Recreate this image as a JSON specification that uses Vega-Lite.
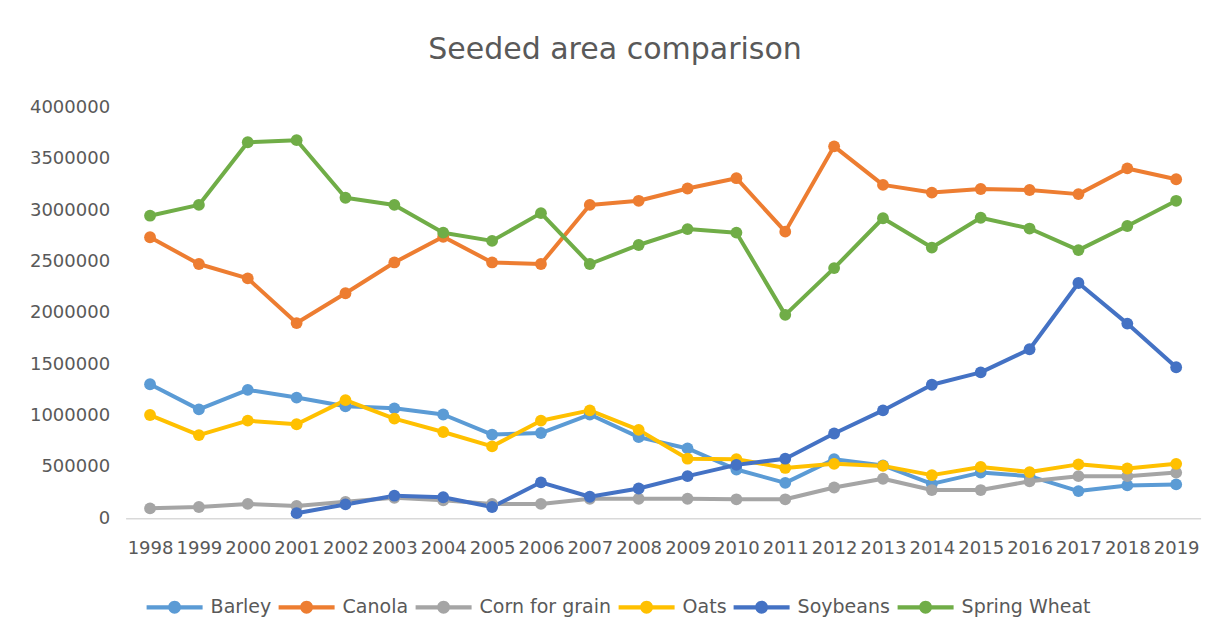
{
  "$schema": "https://vega.github.io/schema/vega-lite/v6.json",
  "autosize": {"type": "none"},
  "width": 1075,
  "height": 411,
  "padding": {"left": 125.6, "top": 107.3, "right": 24.4, "bottom": 120.7},
  "background": "white",
  "title": {
    "text": "Seeded area comparison",
    "font": "DejaVu Sans",
    "fontSize": 30,
    "fontWeight": "normal",
    "color": "#595959",
    "anchor": "middle",
    "frame": "bounds",
    "baseline": "alphabetic",
    "offset": 9
  },
  "config": {
    "view": {"stroke": null},
    "font": "DejaVu Sans"
  },
  "data": {
    "values": [
      {"year": "1998", "crop": "Barley", "area": 1305000},
      {"year": "1999", "crop": "Barley", "area": 1060000},
      {"year": "2000", "crop": "Barley", "area": 1250000},
      {"year": "2001", "crop": "Barley", "area": 1175000},
      {"year": "2002", "crop": "Barley", "area": 1090000},
      {"year": "2003", "crop": "Barley", "area": 1070000},
      {"year": "2004", "crop": "Barley", "area": 1010000},
      {"year": "2005", "crop": "Barley", "area": 815000},
      {"year": "2006", "crop": "Barley", "area": 830000},
      {"year": "2007", "crop": "Barley", "area": 1010000},
      {"year": "2008", "crop": "Barley", "area": 790000},
      {"year": "2009", "crop": "Barley", "area": 680000},
      {"year": "2010", "crop": "Barley", "area": 475000},
      {"year": "2011", "crop": "Barley", "area": 345000},
      {"year": "2012", "crop": "Barley", "area": 575000},
      {"year": "2013", "crop": "Barley", "area": 515000},
      {"year": "2014", "crop": "Barley", "area": 335000},
      {"year": "2015", "crop": "Barley", "area": 445000},
      {"year": "2016", "crop": "Barley", "area": 410000},
      {"year": "2017", "crop": "Barley", "area": 265000},
      {"year": "2018", "crop": "Barley", "area": 320000},
      {"year": "2019", "crop": "Barley", "area": 330000},
      {"year": "1998", "crop": "Canola", "area": 2735000},
      {"year": "1999", "crop": "Canola", "area": 2475000},
      {"year": "2000", "crop": "Canola", "area": 2335000},
      {"year": "2001", "crop": "Canola", "area": 1900000},
      {"year": "2002", "crop": "Canola", "area": 2190000},
      {"year": "2003", "crop": "Canola", "area": 2490000},
      {"year": "2004", "crop": "Canola", "area": 2740000},
      {"year": "2005", "crop": "Canola", "area": 2490000},
      {"year": "2006", "crop": "Canola", "area": 2475000},
      {"year": "2007", "crop": "Canola", "area": 3050000},
      {"year": "2008", "crop": "Canola", "area": 3090000},
      {"year": "2009", "crop": "Canola", "area": 3210000},
      {"year": "2010", "crop": "Canola", "area": 3310000},
      {"year": "2011", "crop": "Canola", "area": 2790000},
      {"year": "2012", "crop": "Canola", "area": 3620000},
      {"year": "2013", "crop": "Canola", "area": 3245000},
      {"year": "2014", "crop": "Canola", "area": 3170000},
      {"year": "2015", "crop": "Canola", "area": 3205000},
      {"year": "2016", "crop": "Canola", "area": 3195000},
      {"year": "2017", "crop": "Canola", "area": 3155000},
      {"year": "2018", "crop": "Canola", "area": 3405000},
      {"year": "2019", "crop": "Canola", "area": 3300000},
      {"year": "1998", "crop": "Corn for grain", "area": 97000},
      {"year": "1999", "crop": "Corn for grain", "area": 110000},
      {"year": "2000", "crop": "Corn for grain", "area": 140000},
      {"year": "2001", "crop": "Corn for grain", "area": 120000},
      {"year": "2002", "crop": "Corn for grain", "area": 160000},
      {"year": "2003", "crop": "Corn for grain", "area": 200000},
      {"year": "2004", "crop": "Corn for grain", "area": 175000},
      {"year": "2005", "crop": "Corn for grain", "area": 140000},
      {"year": "2006", "crop": "Corn for grain", "area": 140000},
      {"year": "2007", "crop": "Corn for grain", "area": 190000},
      {"year": "2008", "crop": "Corn for grain", "area": 190000},
      {"year": "2009", "crop": "Corn for grain", "area": 190000},
      {"year": "2010", "crop": "Corn for grain", "area": 185000},
      {"year": "2011", "crop": "Corn for grain", "area": 185000},
      {"year": "2012", "crop": "Corn for grain", "area": 300000},
      {"year": "2013", "crop": "Corn for grain", "area": 385000},
      {"year": "2014", "crop": "Corn for grain", "area": 275000},
      {"year": "2015", "crop": "Corn for grain", "area": 275000},
      {"year": "2016", "crop": "Corn for grain", "area": 360000},
      {"year": "2017", "crop": "Corn for grain", "area": 410000},
      {"year": "2018", "crop": "Corn for grain", "area": 410000},
      {"year": "2019", "crop": "Corn for grain", "area": 445000},
      {"year": "1998", "crop": "Oats", "area": 1005000},
      {"year": "1999", "crop": "Oats", "area": 810000},
      {"year": "2000", "crop": "Oats", "area": 950000},
      {"year": "2001", "crop": "Oats", "area": 915000},
      {"year": "2002", "crop": "Oats", "area": 1150000},
      {"year": "2003", "crop": "Oats", "area": 970000},
      {"year": "2004", "crop": "Oats", "area": 840000},
      {"year": "2005", "crop": "Oats", "area": 700000},
      {"year": "2006", "crop": "Oats", "area": 950000},
      {"year": "2007", "crop": "Oats", "area": 1050000},
      {"year": "2008", "crop": "Oats", "area": 860000},
      {"year": "2009", "crop": "Oats", "area": 580000},
      {"year": "2010", "crop": "Oats", "area": 575000},
      {"year": "2011", "crop": "Oats", "area": 490000},
      {"year": "2012", "crop": "Oats", "area": 530000},
      {"year": "2013", "crop": "Oats", "area": 510000},
      {"year": "2014", "crop": "Oats", "area": 420000},
      {"year": "2015", "crop": "Oats", "area": 500000},
      {"year": "2016", "crop": "Oats", "area": 450000},
      {"year": "2017", "crop": "Oats", "area": 525000},
      {"year": "2018", "crop": "Oats", "area": 485000},
      {"year": "2019", "crop": "Oats", "area": 530000},
      {"year": "2001", "crop": "Soybeans", "area": 50000},
      {"year": "2002", "crop": "Soybeans", "area": 135000},
      {"year": "2003", "crop": "Soybeans", "area": 220000},
      {"year": "2004", "crop": "Soybeans", "area": 205000},
      {"year": "2005", "crop": "Soybeans", "area": 110000},
      {"year": "2006", "crop": "Soybeans", "area": 350000},
      {"year": "2007", "crop": "Soybeans", "area": 210000},
      {"year": "2008", "crop": "Soybeans", "area": 290000},
      {"year": "2009", "crop": "Soybeans", "area": 410000},
      {"year": "2010", "crop": "Soybeans", "area": 520000},
      {"year": "2011", "crop": "Soybeans", "area": 580000},
      {"year": "2012", "crop": "Soybeans", "area": 825000},
      {"year": "2013", "crop": "Soybeans", "area": 1050000},
      {"year": "2014", "crop": "Soybeans", "area": 1300000},
      {"year": "2015", "crop": "Soybeans", "area": 1420000},
      {"year": "2016", "crop": "Soybeans", "area": 1645000},
      {"year": "2017", "crop": "Soybeans", "area": 2290000},
      {"year": "2018", "crop": "Soybeans", "area": 1895000},
      {"year": "2019", "crop": "Soybeans", "area": 1470000},
      {"year": "1998", "crop": "Spring Wheat", "area": 2945000},
      {"year": "1999", "crop": "Spring Wheat", "area": 3050000},
      {"year": "2000", "crop": "Spring Wheat", "area": 3660000},
      {"year": "2001", "crop": "Spring Wheat", "area": 3680000},
      {"year": "2002", "crop": "Spring Wheat", "area": 3120000},
      {"year": "2003", "crop": "Spring Wheat", "area": 3050000},
      {"year": "2004", "crop": "Spring Wheat", "area": 2780000},
      {"year": "2005", "crop": "Spring Wheat", "area": 2700000},
      {"year": "2006", "crop": "Spring Wheat", "area": 2970000},
      {"year": "2007", "crop": "Spring Wheat", "area": 2475000},
      {"year": "2008", "crop": "Spring Wheat", "area": 2660000},
      {"year": "2009", "crop": "Spring Wheat", "area": 2815000},
      {"year": "2010", "crop": "Spring Wheat", "area": 2780000},
      {"year": "2011", "crop": "Spring Wheat", "area": 1980000},
      {"year": "2012", "crop": "Spring Wheat", "area": 2435000},
      {"year": "2013", "crop": "Spring Wheat", "area": 2920000},
      {"year": "2014", "crop": "Spring Wheat", "area": 2635000},
      {"year": "2015", "crop": "Spring Wheat", "area": 2925000},
      {"year": "2016", "crop": "Spring Wheat", "area": 2820000},
      {"year": "2017", "crop": "Spring Wheat", "area": 2610000},
      {"year": "2018", "crop": "Spring Wheat", "area": 2845000},
      {"year": "2019", "crop": "Spring Wheat", "area": 3090000}
    ]
  },
  "encoding": {
    "x": {
      "field": "year",
      "type": "ordinal",
      "scale": {"type": "point", "padding": 0.5},
      "axis": {
        "title": null,
        "labelAngle": 0,
        "ticks": false,
        "domain": true,
        "domainColor": "#d9d9d9",
        "domainWidth": 1.5,
        "grid": false,
        "labelFont": "DejaVu Sans",
        "labelFontSize": 18,
        "labelColor": "#595959",
        "labelPadding": 21,
        "labelOverlap": false
      }
    },
    "y": {
      "field": "area",
      "type": "quantitative",
      "scale": {"domain": [0, 4000000], "nice": false},
      "axis": {
        "title": null,
        "values": [0, 500000, 1000000, 1500000, 2000000, 2500000, 3000000, 3500000, 4000000],
        "format": "d",
        "ticks": false,
        "domain": false,
        "grid": false,
        "labelFont": "DejaVu Sans",
        "labelFontSize": 18,
        "labelColor": "#595959",
        "labelPadding": 16
      }
    },
    "color": {
      "field": "crop",
      "type": "nominal",
      "scale": {
        "domain": ["Barley", "Canola", "Corn for grain", "Oats", "Soybeans", "Spring Wheat"],
        "range": ["#5B9BD5", "#ED7D31", "#A5A5A5", "#FFC000", "#4472C4", "#70AD47"]
      },
      "legend": {
        "title": null,
        "orient": "none",
        "direction": "horizontal",
        "legendX": 21,
        "legendY": 472,
        "symbolType": "M-1,-0.075L1,-0.075L1,0.075L-1,0.075Z M-0.23,0A0.23,0.23 0 1 1 0.23,0A0.23,0.23 0 1 1 -0.23,0Z",
        "symbolSize": 3136,
        "symbolStrokeWidth": 0,
        "symbolOpacity": 1,
        "labelFont": "DejaVu Sans",
        "labelFontSize": 19,
        "labelColor": "#595959",
        "labelOffset": 8,
        "columnPadding": 7,
        "encode": {
          "symbols": {"update": {"fill": {"scale": "color", "field": "value"}, "strokeWidth": {"value": 0}}}
        }
      }
    }
  },
  "layer": [
    {"mark": {"type": "line", "strokeWidth": 4, "strokeCap": "round", "strokeJoin": "round"}},
    {"mark": {"type": "point", "filled": true, "size": 140, "opacity": 1}}
  ]
}
